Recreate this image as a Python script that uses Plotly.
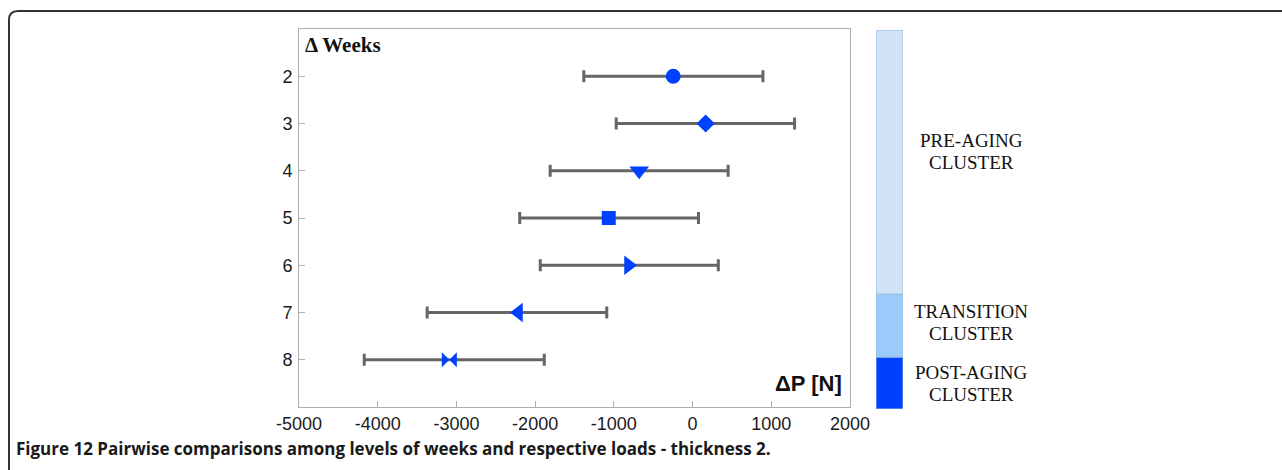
import plotly.graph_objects as go

# ---------------- data ----------------
weeks = [2, 3, 4, 5, 6, 7, 8]
diff_mean = [-246, 166, -678, -1065, -814, -2211, -3090]
ci_low = [-1382, -970, -1809, -2196, -1935, -3372, -4171]
ci_high = [894, 1296, 452, 75, 327, -1090, -1884]
symbols = ["circle", "diamond", "triangle-down", "square", "triangle-right", "triangle-left", "bowtie"]

x_ticks = [-5000, -4000, -3000, -2000, -1000, 0, 1000, 2000]

cluster_names = ["POST-AGING", "TRANSITION", "PRE-AGING"]
cluster_start = [0.0, 0.137, 0.303]   # share of the cluster bar, bottom-up
cluster_end = [0.137, 0.303, 1.0]
cluster_colors = ["rgb(0,64,255)", "rgb(155,203,250)", "rgb(207,227,244)"]

caption_bold = "Figure 12"
caption_rest = "Pairwise comparisons among levels of weeks and respective loads - thickness 2."

# ---------------- layout geometry (pixels) ----------------
W, H = 1282, 470
L, R, T, B = 299, 379, 29, 61
pw, ph = W - L - R, H - T - B


def px(x):
    return (x - L) / pw


def py(y):
    return (H - B - y) / ph


fig = go.Figure()

err_plus = [h - m for h, m in zip(ci_high, diff_mean)]
err_minus = [m - l for m, l in zip(diff_mean, ci_low)]

fig.add_trace(go.Scatter(
    x=diff_mean, y=weeks, mode="markers",
    marker=dict(symbol=symbols, size=[15, 14, 17, 14, 17, 17, 15], color="rgb(0,64,255)",
                opacity=1, line=dict(width=0)),
    error_x=dict(type="data", array=err_plus, arrayminus=err_minus,
                 color="rgb(102,102,102)", thickness=3, width=6),
    showlegend=False, hoverinfo="x+y",
))

label_centers = [383.5, 322.5, 151]   # pixel centre of each two-line label
for name, s, e, c, yc in zip(cluster_names, cluster_start, cluster_end, cluster_colors, label_centers):
    fig.add_trace(go.Bar(
        x=[0], y=[e - s], base=[s], width=1, xaxis="x2", yaxis="y2",
        marker=dict(color=c, line=dict(color="rgb(150,185,220)", width=1)),
        showlegend=False, hoverinfo="name", name=name + " CLUSTER",
    ))
    for txt, dy in ((name, -11), ("CLUSTER", 11)):
        fig.add_annotation(
            x=px(971), y=py(yc + dy), xref="paper", yref="paper", text=txt, showarrow=False,
            font=dict(family="Liberation Serif", size=19, color="#111"),
            xanchor="center", yanchor="middle",
        )

axis_color = "rgb(175,175,175)"
fig.update_layout(
    width=W, height=H,
    margin=dict(l=L, r=R, t=T, b=B, pad=0),
    paper_bgcolor="white", plot_bgcolor="white",
    barmode="overlay",
    xaxis=dict(domain=[0, px(850)], range=[-5000, 2000], tickvals=x_ticks,
               ticktext=[str(v) for v in x_ticks],
               showgrid=False, zeroline=False, showline=True, mirror=True,
               linecolor=axis_color, linewidth=1,
               ticks="inside", ticklen=6, tickcolor=axis_color,
               tickfont=dict(family="Liberation Sans", size=18, color="#1a1a1a")),
    yaxis=dict(domain=[py(407), 1], range=[9, 1], tickvals=weeks,
               ticktext=[str(w) for w in weeks],
               showgrid=False, zeroline=False, showline=True, mirror=True,
               linecolor=axis_color, linewidth=1,
               ticks="inside", ticklen=6, tickcolor=axis_color, ticklabelstandoff=2,
               tickfont=dict(family="Liberation Sans", size=18, color="#1a1a1a")),
    xaxis2=dict(domain=[px(876), 1], range=[-0.5, 0.5], visible=False, anchor="y2"),
    yaxis2=dict(domain=[0, py(30)], range=[0, 1], visible=False, anchor="x2"),
)

fig.add_annotation(x=px(303), y=py(45), xref="paper", yref="paper",
                   text="<b>Δ Weeks</b>", showarrow=False, xanchor="left", yanchor="middle",
                   font=dict(family="Liberation Serif", size=21, color="#111"))
fig.add_annotation(x=px(844), y=py(383), xref="paper", yref="paper",
                   text="<b>ΔP [N]</b>", showarrow=False, xanchor="right", yanchor="middle",
                   font=dict(family="Liberation Sans", size=22, color="#111"))

fig.add_annotation(x=px(14), y=py(448), xref="paper", yref="paper",
                   text="<b>" + caption_bold + "</b> <b>" + caption_rest + "</b>",
                   showarrow=False, xanchor="left", yanchor="middle",
                   font=dict(family="Open Sans", size=17, color="#1a1a1a"))

# outer rounded frame (top-left corner), extending past right & bottom edges
r = 9
path = (f"M {px(9)},{py(H + 5)} L {px(9)},{py(11 + r)} "
        f"Q {px(9)},{py(11)} {px(9 + r)},{py(11)} L {px(W + 5)},{py(11)}")
fig.add_shape(type="path", path=path, xref="paper", yref="paper",
              line=dict(color="#333", width=2), layer="above")

fig.write_html("out.html", config={"displayModeBar": False},
               post_script="document.body.style.margin='0';document.body.style.overflow='hidden';")
